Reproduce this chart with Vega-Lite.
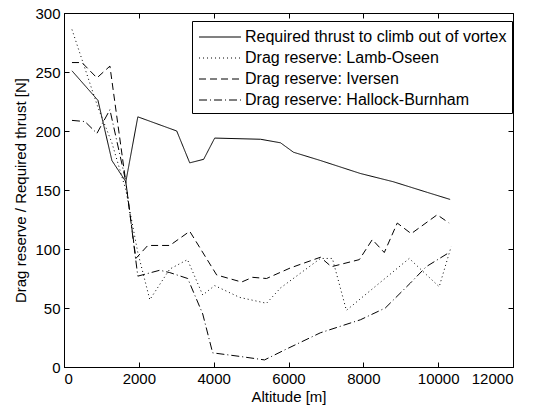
{
  "$schema": "https://vega.github.io/schema/vega-lite/v6.json",
  "autosize": {"type": "none"},
  "padding": {"left": 64, "top": 13, "right": 24, "bottom": 43},
  "width": 449,
  "height": 354,
  "background": "white",
  "config": {
    "view": {"stroke": "black", "strokeWidth": 1},
    "font": "Liberation Sans",
    "axis": {
      "grid": false,
      "domainColor": "black",
      "tickColor": "black",
      "labelColor": "black",
      "titleColor": "black",
      "labelFont": "Liberation Sans",
      "titleFont": "Liberation Sans",
      "labelFontSize": 15,
      "titleFontSize": 15,
      "titleFontWeight": "normal",
      "tickSize": -5,
      "labelPadding": 9
    }
  },
  "data": {
    "values": [
      {"series": "Required thrust to climb out of vortex", "alt": 213, "val": 251},
      {"series": "Required thrust to climb out of vortex", "alt": 907, "val": 226},
      {"series": "Required thrust to climb out of vortex", "alt": 1280, "val": 175},
      {"series": "Required thrust to climb out of vortex", "alt": 1653, "val": 157},
      {"series": "Required thrust to climb out of vortex", "alt": 1973, "val": 212},
      {"series": "Required thrust to climb out of vortex", "alt": 3013, "val": 200},
      {"series": "Required thrust to climb out of vortex", "alt": 3360, "val": 173},
      {"series": "Required thrust to climb out of vortex", "alt": 3733, "val": 176},
      {"series": "Required thrust to climb out of vortex", "alt": 4027, "val": 194},
      {"series": "Required thrust to climb out of vortex", "alt": 5253, "val": 193},
      {"series": "Required thrust to climb out of vortex", "alt": 5787, "val": 190},
      {"series": "Required thrust to climb out of vortex", "alt": 6133, "val": 182},
      {"series": "Required thrust to climb out of vortex", "alt": 6853, "val": 175},
      {"series": "Required thrust to climb out of vortex", "alt": 7920, "val": 164},
      {"series": "Required thrust to climb out of vortex", "alt": 8800, "val": 157},
      {"series": "Required thrust to climb out of vortex", "alt": 9707, "val": 148},
      {"series": "Required thrust to climb out of vortex", "alt": 10320, "val": 142},

      {"series": "Drag reserve: Lamb-Oseen", "alt": 213, "val": 286},
      {"series": "Drag reserve: Lamb-Oseen", "alt": 907, "val": 220},
      {"series": "Drag reserve: Lamb-Oseen", "alt": 1280, "val": 190},
      {"series": "Drag reserve: Lamb-Oseen", "alt": 1653, "val": 150},
      {"series": "Drag reserve: Lamb-Oseen", "alt": 1973, "val": 97},
      {"series": "Drag reserve: Lamb-Oseen", "alt": 2293, "val": 57},
      {"series": "Drag reserve: Lamb-Oseen", "alt": 2827, "val": 83},
      {"series": "Drag reserve: Lamb-Oseen", "alt": 3300, "val": 91},
      {"series": "Drag reserve: Lamb-Oseen", "alt": 3707, "val": 61},
      {"series": "Drag reserve: Lamb-Oseen", "alt": 4027, "val": 69},
      {"series": "Drag reserve: Lamb-Oseen", "alt": 4693, "val": 59},
      {"series": "Drag reserve: Lamb-Oseen", "alt": 5413, "val": 54},
      {"series": "Drag reserve: Lamb-Oseen", "alt": 5787, "val": 67},
      {"series": "Drag reserve: Lamb-Oseen", "alt": 6853, "val": 92},
      {"series": "Drag reserve: Lamb-Oseen", "alt": 7173, "val": 92},
      {"series": "Drag reserve: Lamb-Oseen", "alt": 7547, "val": 48},
      {"series": "Drag reserve: Lamb-Oseen", "alt": 9227, "val": 92},
      {"series": "Drag reserve: Lamb-Oseen", "alt": 10027, "val": 68},
      {"series": "Drag reserve: Lamb-Oseen", "alt": 10347, "val": 102},

      {"series": "Drag reserve: Iversen", "alt": 213, "val": 258},
      {"series": "Drag reserve: Iversen", "alt": 480, "val": 258},
      {"series": "Drag reserve: Iversen", "alt": 880, "val": 245},
      {"series": "Drag reserve: Iversen", "alt": 1227, "val": 255},
      {"series": "Drag reserve: Iversen", "alt": 1680, "val": 150},
      {"series": "Drag reserve: Iversen", "alt": 1920, "val": 92},
      {"series": "Drag reserve: Iversen", "alt": 2240, "val": 103},
      {"series": "Drag reserve: Iversen", "alt": 2827, "val": 103},
      {"series": "Drag reserve: Iversen", "alt": 3360, "val": 115},
      {"series": "Drag reserve: Iversen", "alt": 4080, "val": 78},
      {"series": "Drag reserve: Iversen", "alt": 4747, "val": 72},
      {"series": "Drag reserve: Iversen", "alt": 5040, "val": 76},
      {"series": "Drag reserve: Iversen", "alt": 5413, "val": 75},
      {"series": "Drag reserve: Iversen", "alt": 6053, "val": 84},
      {"series": "Drag reserve: Iversen", "alt": 6853, "val": 93},
      {"series": "Drag reserve: Iversen", "alt": 7147, "val": 85},
      {"series": "Drag reserve: Iversen", "alt": 7893, "val": 91},
      {"series": "Drag reserve: Iversen", "alt": 8240, "val": 108},
      {"series": "Drag reserve: Iversen", "alt": 8560, "val": 97},
      {"series": "Drag reserve: Iversen", "alt": 8907, "val": 122},
      {"series": "Drag reserve: Iversen", "alt": 9280, "val": 113},
      {"series": "Drag reserve: Iversen", "alt": 9973, "val": 129},
      {"series": "Drag reserve: Iversen", "alt": 10293, "val": 122},

      {"series": "Drag reserve: Hallock-Burnham", "alt": 213, "val": 209},
      {"series": "Drag reserve: Hallock-Burnham", "alt": 560, "val": 208},
      {"series": "Drag reserve: Hallock-Burnham", "alt": 880, "val": 198},
      {"series": "Drag reserve: Hallock-Burnham", "alt": 1227, "val": 218},
      {"series": "Drag reserve: Hallock-Burnham", "alt": 1653, "val": 157},
      {"series": "Drag reserve: Hallock-Burnham", "alt": 1973, "val": 77},
      {"series": "Drag reserve: Hallock-Burnham", "alt": 2560, "val": 82},
      {"series": "Drag reserve: Hallock-Burnham", "alt": 2827, "val": 80},
      {"series": "Drag reserve: Hallock-Burnham", "alt": 3307, "val": 75},
      {"series": "Drag reserve: Hallock-Burnham", "alt": 3707, "val": 45},
      {"series": "Drag reserve: Hallock-Burnham", "alt": 3973, "val": 12},
      {"series": "Drag reserve: Hallock-Burnham", "alt": 4693, "val": 9},
      {"series": "Drag reserve: Hallock-Burnham", "alt": 5360, "val": 6},
      {"series": "Drag reserve: Hallock-Burnham", "alt": 5867, "val": 14},
      {"series": "Drag reserve: Hallock-Burnham", "alt": 6853, "val": 29},
      {"series": "Drag reserve: Hallock-Burnham", "alt": 7920, "val": 40},
      {"series": "Drag reserve: Hallock-Burnham", "alt": 8587, "val": 50},
      {"series": "Drag reserve: Hallock-Burnham", "alt": 9253, "val": 71},
      {"series": "Drag reserve: Hallock-Burnham", "alt": 9680, "val": 85},
      {"series": "Drag reserve: Hallock-Burnham", "alt": 10293, "val": 97}
    ]
  },
  "layer": [
    {
      "mark": {"type": "line", "color": "black", "strokeWidth": 1},
      "encoding": {
        "x": {"field": "alt", "type": "quantitative", "title": "Altitude [m]",
              "scale": {"domain": [0, 12000], "nice": false},
              "axis": {"values": [0, 2000, 4000, 6000, 8000, 10000, 12000], "format": "d", "titlePadding": 3}},
        "y": {"field": "val", "type": "quantitative", "title": "Drag reserve / Required thrust [N]",
              "scale": {"domain": [0, 300], "nice": false},
              "axis": {"values": [0, 50, 100, 150, 200, 250, 300], "format": "d", "titlePadding": 6}},
        "strokeDash": {
          "field": "series", "type": "nominal",
          "scale": {
            "domain": ["Required thrust to climb out of vortex", "Drag reserve: Lamb-Oseen", "Drag reserve: Iversen", "Drag reserve: Hallock-Burnham"],
            "range": [[1, 0], [1, 3], [7, 4], [8, 3, 1, 3]]
          },
          "legend": {
            "title": null,
            "orient": "none",
            "legendX": 128,
            "legendY": 8,
            "fillColor": "white",
            "strokeColor": "black",
            "padding": 5,
            "symbolType": "M-2,0H2",
            "symbolSize": 440,
            "symbolOffset": 12,
            "symbolStrokeColor": "black",
            "symbolStrokeWidth": 1,
            "labelFont": "Liberation Sans",
            "labelFontSize": 16,
            "labelColor": "black",
            "labelLimit": 400,
            "rowPadding": 2,
            "labelOffset": 14
          }
        }
      }
    },
    {
      "mark": {"type": "point", "opacity": 0},
      "encoding": {
        "x": {"field": "alt", "type": "quantitative",
              "axis": {"orient": "top", "labels": false, "title": null, "domain": false, "values": [0, 2000, 4000, 6000, 8000, 10000, 12000]}},
        "y": {"field": "val", "type": "quantitative",
              "axis": {"orient": "right", "labels": false, "title": null, "domain": false, "values": [0, 50, 100, 150, 200, 250, 300]}}
      }
    }
  ],
  "resolve": {"axis": {"x": "independent", "y": "independent"}}
}
